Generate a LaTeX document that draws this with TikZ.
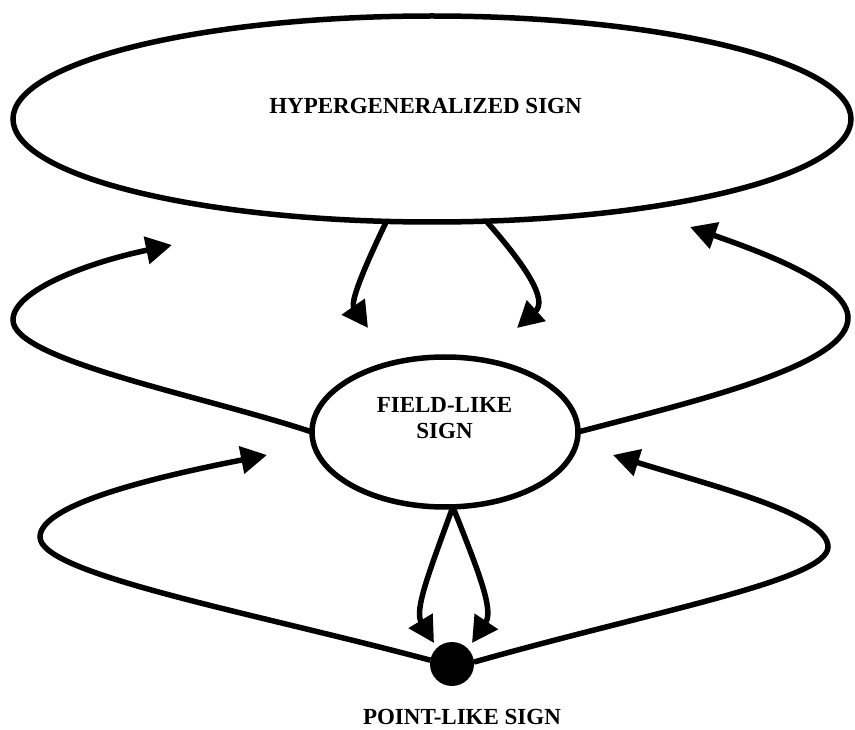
\documentclass[tikz,border=0pt]{standalone}
\usepackage{fontspec}
\setmainfont{Liberation Serif}
\usetikzlibrary{shapes.geometric,arrows.meta}
\begin{document}
\begin{tikzpicture}[x=1pt,y=-1pt,
  ln/.style={line width=5.5pt},
  conn/.style={ln, -{Triangle[length=26pt,width=27pt]}},
  lbl/.style={font=\fontsize{23}{26.6}\selectfont\bfseries, align=center, inner sep=0pt},
  ell/.style={ellipse, draw, ln, inner sep=0pt, outer sep=0pt}]
\useasboundingbox (0,0) rectangle (855,730);
% nodes
\node[ell, minimum width=838pt, minimum height=206pt] (hyper) at (432,119) {};
\node[lbl] (hypertext) at (425.5,106) {HYPERGENERALIZED SIGN};
\node[ell, minimum width=266pt, minimum height=150pt] (field) at (445,432) {};
\node[lbl] (fieldtext) at (444.5,418) {FIELD-LIKE\\SIGN};
\node[circle, fill, minimum size=44pt, inner sep=0pt, outer sep=0pt] (pt) at (452,664) {};
\node[lbl] (pttext) at (462,717) {POINT-LIKE SIGN};
% free ends
\coordinate (ulTip) at (172,245);
\coordinate (urTip) at (690,227);
\coordinate (llTip) at (267,455);
\coordinate (lrTip) at (613,455);
\coordinate (tdl) at (368,328);
\coordinate (tdr) at (517,328);
\coordinate (bdl) at (434,643);
\coordinate (bdr) at (472,643);
% top down arrows
\draw[conn] (hyper.246) .. controls (364,268) and (350,302) .. (tdl);
\draw[conn] (hyper.298.5) .. controls (526,266) and (548,300) .. (tdr);
% upper loops
\draw[conn] (field.180) .. controls (200,395) and (13,360) .. (13,320)
  .. controls (13,290) and (90,262) .. (ulTip);
\draw[conn] (field.0) .. controls (700,400) and (848,365) .. (848,318)
  .. controls (848,285) and (770,255) .. (urTip);
% bottom down arrows
\draw[conn] (field.276) .. controls (430,570) and (414,610) .. (bdl);
\draw[conn] (field.276) .. controls (478,570) and (494,610) .. (bdr);
% lower loops
\draw[conn] (pt.170) .. controls (250,612) and (40,574) .. (40,537)
  .. controls (40,505) and (150,478) .. (llTip);
\draw[conn] (pt.5) .. controls (650,612) and (828,580) .. (828,547)
  .. controls (828,515) and (720,488) .. (lrTip);
\end{tikzpicture}
\end{document}
